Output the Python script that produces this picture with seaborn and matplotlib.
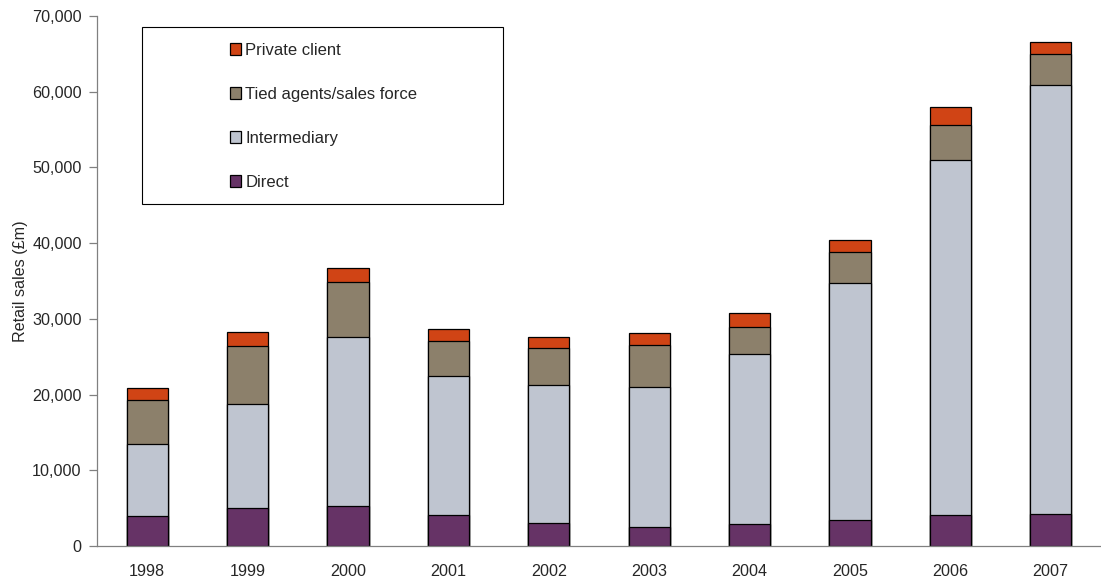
import matplotlib
matplotlib.use("Agg")
import matplotlib.pyplot as plt
from matplotlib.patches import Patch, Rectangle
from matplotlib.ticker import FuncFormatter, FixedLocator
import numpy as np
import pandas as pd
import seaborn as sns

years = ["1998", "1999", "2000", "2001", "2002", "2003", "2004", "2005", "2006", "2007"]
direct = [3960, 4970, 5280, 4050, 3040, 2550, 2860, 3450, 4030, 4180]
intermediary = [9470, 13730, 22280, 18400, 18230, 18410, 22540, 31220, 46980, 56750]
tied_agents = [5850, 7670, 7260, 4630, 4830, 5640, 3530, 4180, 4570, 4040]
private_client = [1550, 1890, 1850, 1580, 1460, 1490, 1890, 1550, 2420, 1600]

series_names = ["Direct", "Intermediary", "Tied agents/sales force", "Private client"]
series_values = [direct, intermediary, tied_agents, private_client]
colors = {
    "Direct": "#663366",
    "Intermediary": "#BFC5D0",
    "Tied agents/sales force": "#8C806B",
    "Private client": "#D04415",
}

sns.set_style("white")
plt.rcParams["font.family"] = ["Liberation Sans", "DejaVu Sans"]
FS = 11.6

# Long table with the running top of each stacked segment
df = pd.DataFrame({"year": years})
running = np.zeros(len(years))
for name, vals in zip(series_names, series_values):
    running = running + np.array(vals, dtype=float)
    df[name] = running.copy()

W, H = 1101, 578
fig = plt.figure(figsize=(W / 100, H / 100), dpi=100)
ax = fig.add_axes([97 / W, 1 - 546 / H, 1004 / W, 530 / H])

# Draw from the tallest cumulative layer down so lower layers sit on top
for name in reversed(series_names):
    sns.barplot(data=df, x="year", y=name, order=years, color=colors[name],
                width=0.41, edgecolor="black", linewidth=0.9, saturation=1,
                ax=ax, errorbar=None)

ax.set_xlim(-0.5, len(years) - 0.5)
ax.set_ylim(0, 70000)
ax.set_yticks(np.arange(0, 70001, 10000))
ax.yaxis.set_major_formatter(FuncFormatter(lambda v, p: f"{int(v):,}"))
ax.set_ylabel("Retail sales (£m)", fontsize=FS, labelpad=3)
ax.set_xlabel("")

ax.xaxis.set_minor_locator(FixedLocator(np.arange(-0.5, len(years), 1.0)))
ax.tick_params(axis="x", which="major", length=0, pad=13, labelsize=FS)
ax.tick_params(axis="x", which="minor", length=5, width=0.9, color="#808080",
               direction="out")
ax.tick_params(axis="y", which="major", length=6, width=0.9, color="#808080",
               direction="out", pad=5, labelsize=FS, left=True)

for side in ["top", "right"]:
    ax.spines[side].set_visible(False)
for side in ["left", "bottom"]:
    ax.spines[side].set_color("#808080")
    ax.spines[side].set_linewidth(0.9)

# Legend inside a framed box
box = Rectangle((142 / W, 1 - 204 / H), (503 - 142) / W, (204 - 27) / H,
                transform=fig.transFigure, facecolor="white", edgecolor="black",
                linewidth=0.8, zorder=5)
fig.add_artist(box)
handles = [Patch(facecolor=colors[n], edgecolor="black", linewidth=0.9)
           for n in reversed(series_names)]
leg = fig.legend(handles, list(reversed(series_names)), loc="upper left",
                 bbox_to_anchor=(230 / W, 1 - 43 / H), frameon=False,
                 borderpad=0, borderaxespad=0, handlelength=0.67,
                 handleheight=0.67, handletextpad=0.25, labelspacing=1.74,
                 fontsize=12.0)
leg.set_zorder(6)

fig.savefig("out.png", dpi=100)
